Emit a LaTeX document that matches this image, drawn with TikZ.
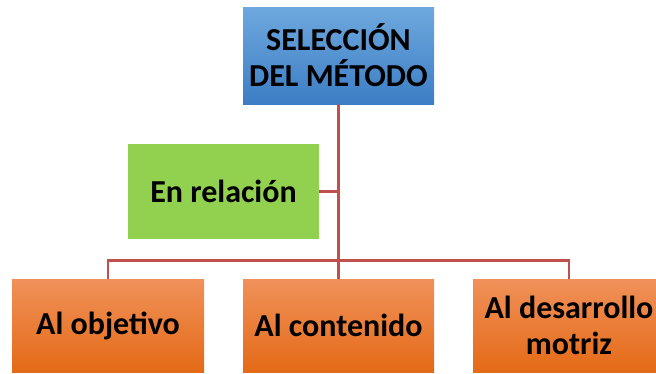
\documentclass[tikz,border=0pt]{standalone}
\usepackage{fontspec}
\setmainfont{Carlito}
\definecolor{lnred}{RGB}{192,80,77}
\definecolor{bluetop}{RGB}{110,168,222}
\definecolor{bluebot}{RGB}{60,125,196}
\definecolor{grn}{RGB}{146,208,80}
\definecolor{ortop}{RGB}{240,145,90}
\definecolor{orbot}{RGB}{228,106,22}
\tikzset{
  box/.style={inner sep=0pt, align=center, font=\bfseries\fontsize{32}{36}\selectfont, text=black},
  bluebox/.style={box, top color=bluetop, bottom color=bluebot, draw=none, minimum width=191pt, minimum height=97pt},
  greenbox/.style={box, fill=grn, minimum width=191pt, minimum height=95pt},
  orbox/.style={box, top color=ortop, bottom color=orbot, minimum width=192pt, minimum height=93pt},
  conn/.style={draw=lnred, line width=2.6pt}
}
\begin{document}
\begin{tikzpicture}[x=1pt,y=-1pt]
\useasboundingbox (0,0) rectangle (656,373);
\node[bluebox] (top) at (338.5,55.5) {SELECCIÓN\\DEL MÉTODO};
\node[greenbox] (rel) at (223.5,191.5) {En relación};
\node[orbox] (b1) at (108,325.5) {Al objetivo};
\node[orbox, minimum width=191pt] (b2) at (338.5,325.5) {Al contenido};
\node[orbox] (b3) at (569,325.5) {Al desarrollo\\motriz};
\coordinate (bus) at (338.5,260.5);
\draw[conn] (top.south) -- (b2.north);
\draw[conn] (rel.east) -- (top.south |- rel.east);
\draw[conn] (b1.north) |- (bus) -| (b3.north);
\end{tikzpicture}
\end{document}
